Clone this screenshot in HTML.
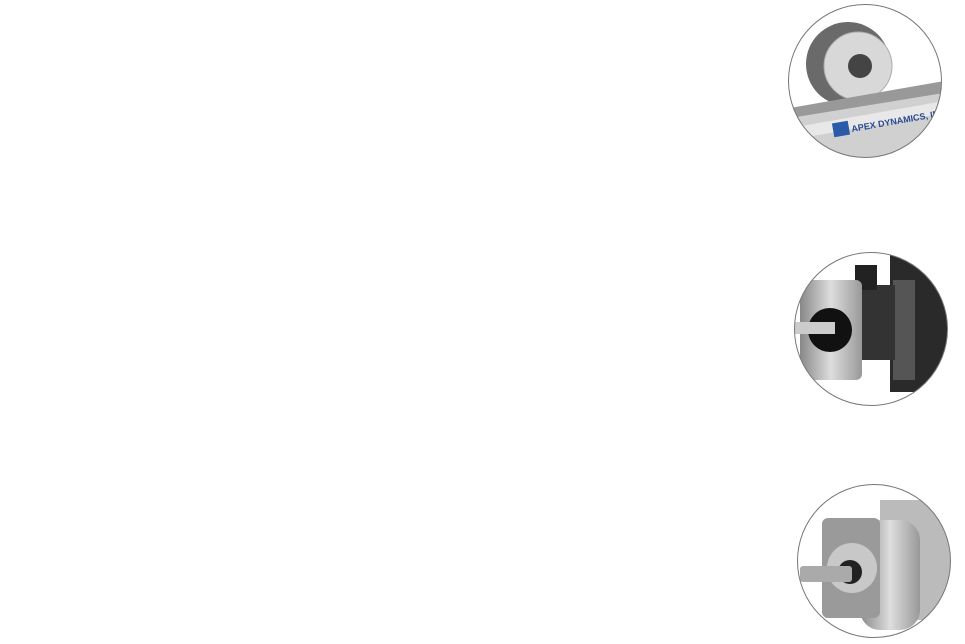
<!DOCTYPE html>
<html><head><meta charset="utf-8"><style>
html,body{margin:0;padding:0;background:#fff;width:965px;height:644px;overflow:hidden;font-family:"Liberation Sans",sans-serif}
</style></head><body>
<svg width="965" height="644" viewBox="0 0 965 644" xmlns="http://www.w3.org/2000/svg">
<defs>
<clipPath id="c1"><circle cx="865" cy="81" r="76.5"/></clipPath>
<clipPath id="c2"><circle cx="871" cy="329" r="76.5"/></clipPath>
<clipPath id="c3"><circle cx="874" cy="561" r="76.5"/></clipPath>
<linearGradient id="met" x1="0" y1="0" x2="1" y2="0"><stop offset="0" stop-color="#888"/><stop offset=".5" stop-color="#ddd"/><stop offset="1" stop-color="#999"/></linearGradient>
</defs>
<!-- circle 1: gear rack -->
<g clip-path="url(#c1)">
<rect x="780" y="0" width="170" height="170" fill="#fff"/>
<circle cx="848" cy="64" r="42" fill="#6a6a6a"/>
<circle cx="858" cy="66" r="34" fill="#d8d8d8" stroke="#aaa"/>
<circle cx="860" cy="66" r="12" fill="#444"/>
<polygon points="790,108 950,80 950,100 790,130" fill="#999"/>
<polygon points="790,118 950,92 950,150 790,170" fill="#d0d0d0"/>
<polygon points="790,128 950,100 950,112 790,140" fill="#e8e8e8"/>
<rect x="833" y="122" width="16" height="14" fill="#2a5aa8" transform="rotate(-10 841 129)"/>
<text x="852" y="132" font-size="9" font-weight="bold" fill="#2a4a90" transform="rotate(-10 852 132)">APEX DYNAMICS, INC.</text>
</g>
<circle cx="865" cy="81" r="76.5" fill="none" stroke="#777" stroke-width="1"/>
<!-- circle 2: servo -->
<g clip-path="url(#c2)">
<rect x="780" y="250" width="180" height="160" fill="#fff"/>
<rect x="890" y="252" width="60" height="140" fill="#2a2a2a"/>
<rect x="893" y="280" width="22" height="100" fill="#555"/>
<rect x="855" y="285" width="40" height="75" fill="#333"/>
<rect x="855" y="265" width="22" height="25" fill="#222"/>
<rect x="800" y="280" width="62" height="100" rx="6" fill="url(#met)"/>
<circle cx="830" cy="330" r="22" fill="#111"/>
<rect x="795" y="322" width="40" height="12" fill="#ccc"/>
</g>
<circle cx="871" cy="329" r="76.5" fill="none" stroke="#777" stroke-width="1"/>
<!-- circle 3: gearbox -->
<g clip-path="url(#c3)">
<rect x="780" y="480" width="180" height="165" fill="#fff"/>
<rect x="880" y="500" width="70" height="120" fill="#bbb"/>
<rect x="860" y="520" width="60" height="110" rx="20" fill="url(#met)"/>
<rect x="822" y="518" width="58" height="100" rx="6" fill="#9a9a9a"/>
<circle cx="852" cy="568" r="25" fill="#c8c8c8"/>
<circle cx="850" cy="572" r="12" fill="#222"/>
<rect x="800" y="566" width="52" height="16" rx="3" fill="#aaa"/>
</g>
<circle cx="874" cy="561" r="76.5" fill="none" stroke="#777" stroke-width="1"/>
</svg>
</body></html>
